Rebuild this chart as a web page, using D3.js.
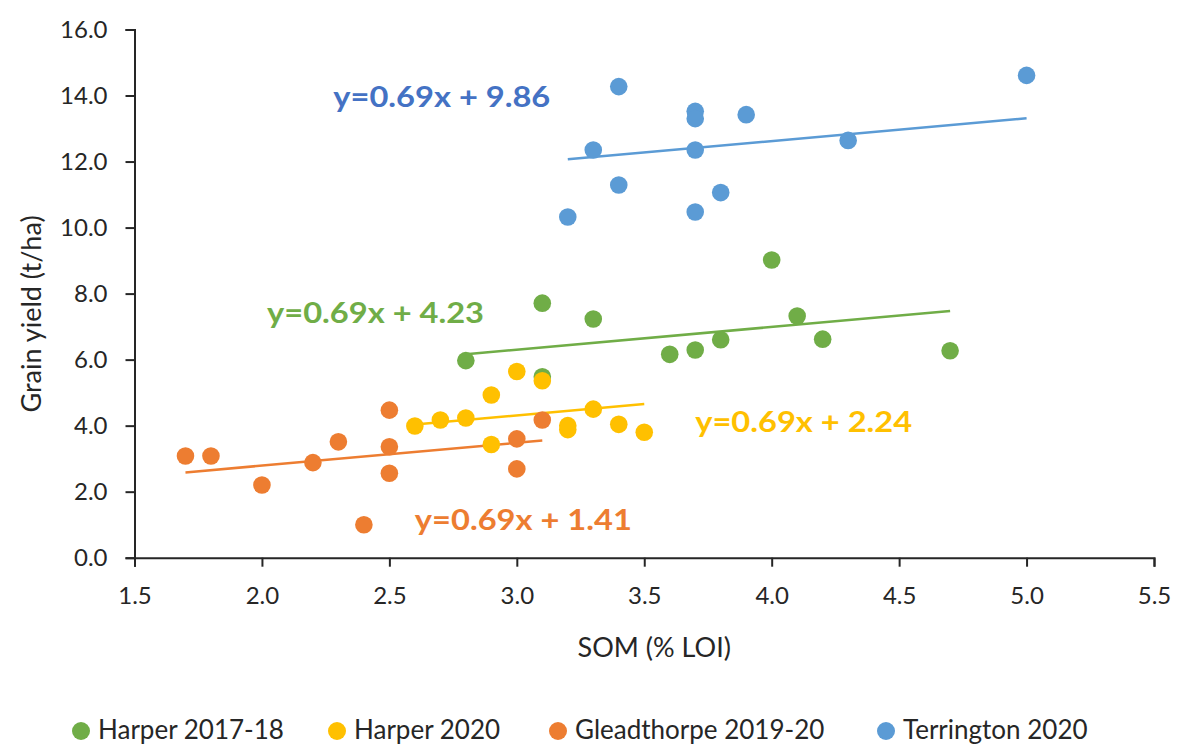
<!DOCTYPE html>
<html>
<head>
<meta charset="utf-8">
<script src="https://cdn.jsdelivr.net/npm/d3@7"></script>
<style>
  body { margin: 0; background: #fff; }
  svg { font-family: Lato, "Open Sans", sans-serif; }
</style>
</head>
<body>
<svg id="chart"></svg>
<script>
// Chart data
const seriesNames = ["Harper 2017-18", "Harper 2020", "Gleadthorpe 2019-20", "Terrington 2020"];
const seriesColors = ["#70AD47", "#FFC000", "#ED7D31", "#5B9BD5"];

const harper1718Som = [2.8, 3.1, 3.1, 3.3, 3.6, 3.7, 3.8, 4.0, 4.1, 4.2, 4.7];
const harper1718Yield = [5.97, 7.71, 5.48, 7.23, 6.16, 6.29, 6.60, 9.02, 7.32, 6.62, 6.27];

const harper2020Som = [2.6, 2.7, 2.8, 2.9, 2.9, 3.0, 3.1, 3.2, 3.2, 3.3, 3.4, 3.5];
const harper2020Yield = [3.99, 4.17, 4.23, 4.93, 3.43, 5.64, 5.36, 4.00, 3.88, 4.50, 4.04, 3.80];

const gleadSom = [1.7, 1.8, 2.0, 2.2, 2.3, 2.4, 2.5, 2.5, 2.5, 3.0, 3.0, 3.1];
const gleadYield = [3.08, 3.08, 2.20, 2.88, 3.51, 1.00, 4.47, 3.36, 2.56, 3.60, 2.69, 4.17];

const terrSom = [3.2, 3.3, 3.4, 3.4, 3.7, 3.7, 3.7, 3.7, 3.8, 3.9, 4.3, 5.0];
const terrYield = [10.32, 12.35, 14.27, 11.29, 13.52, 13.30, 12.35, 10.47, 11.06, 13.42, 12.64, 14.61];

// trendline equations: common slope, one intercept per series
const slope = 0.69;
const intercepts = [4.23, 2.24, 1.41, 9.86];

const xTicks = [1.5, 2.0, 2.5, 3.0, 3.5, 4.0, 4.5, 5.0, 5.5];
const yTicks = [0, 2, 4, 6, 8, 10, 12, 14, 16];

const series = [
  { x: harper1718Som, y: harper1718Yield },
  { x: harper2020Som, y: harper2020Yield },
  { x: gleadSom, y: gleadYield },
  { x: terrSom, y: terrYield }
];

// equation label placement (in data units, left edge / baseline)
const labelX = [2.02, 3.70, 2.60, 2.28];
const labelY = [7.11, 3.82, 0.84, 13.66];
const labelColors = ["#70AD47", "#FFC000", "#ED7D31", "#4472C4"];

const width = 1181, height = 747;
const margin = { left: 134.5, right: 27, top: 29.5, bottom: 189.3 };

const svg = d3.select("#chart").attr("width", width).attr("height", height);

const x = d3.scaleLinear().domain([1.5, 5.5]).range([margin.left, width - margin.right]);
const y = d3.scaleLinear().domain([0, 16]).range([height - margin.bottom, margin.top]);

// axes
const xAxis = svg.append("g")
  .attr("transform", `translate(0,${height - margin.bottom})`)
  .call(d3.axisBottom(x).tickValues(xTicks).tickFormat(d3.format(".1f")).tickSizeInner(9).tickSizeOuter(9).tickPadding(20));
const yAxis = svg.append("g")
  .attr("transform", `translate(${margin.left},0)`)
  .call(d3.axisLeft(y).tickValues(yTicks).tickFormat(d3.format(".1f")).tickSizeInner(9).tickSizeOuter(9).tickPadding(18));

[xAxis, yAxis].forEach(a => {
  a.selectAll("path, line").attr("stroke", "#262626").attr("stroke-width", 2);
  a.selectAll("text").attr("fill", "#262626").style("font-size", "24px").style("font-family", "Lato, sans-serif");
});

// axis titles
svg.append("text")
  .attr("x", x(3.5) + 10).attr("y", 657)
  .attr("text-anchor", "middle")
  .attr("fill", "#262626").style("font-size", "27px")
  .text("SOM (% LOI)");
svg.append("text")
  .attr("transform", `translate(41,314) rotate(-90)`)
  .attr("text-anchor", "middle")
  .attr("fill", "#262626").style("font-size", "27px")
  .text("Grain yield (t/ha)");

// trendlines
series.forEach((s, i) => {
  const x0 = d3.min(s.x), x1 = d3.max(s.x);
  svg.append("line")
    .attr("x1", x(x0)).attr("y1", y(slope * x0 + intercepts[i]))
    .attr("x2", x(x1)).attr("y2", y(slope * x1 + intercepts[i]))
    .attr("stroke", seriesColors[i])
    .attr("stroke-width", 2.5);
});

// markers
series.forEach((s, i) => {
  svg.append("g").selectAll("circle")
    .data(s.x.map((v, j) => [v, s.y[j]]))
    .join("circle")
    .attr("cx", d => x(d[0]))
    .attr("cy", d => y(d[1]))
    .attr("r", 8.8)
    .attr("fill", seriesColors[i]);
});

// equation labels
intercepts.forEach((b, i) => {
  svg.append("text")
    .attr("x", x(labelX[i])).attr("y", y(labelY[i]))
    .attr("fill", labelColors[i])
    .attr("textLength", 217).attr("lengthAdjust", "spacingAndGlyphs")
    .style("font-size", "29px").style("font-weight", "bold")
    .text(`y=${slope.toFixed(2)}x + ${b.toFixed(2)}`);
});

// legend
const legendX = [81, 337, 558, 886];
const legend = svg.append("g");
seriesNames.forEach((name, i) => {
  legend.append("circle")
    .attr("cx", legendX[i]).attr("cy", 731).attr("r", 9)
    .attr("fill", seriesColors[i]);
  legend.append("text")
    .attr("x", legendX[i] + 17).attr("y", 739)
    .attr("fill", "#262626").style("font-size", "26px")
    .text(name);
});
</script>
</body>
</html>
